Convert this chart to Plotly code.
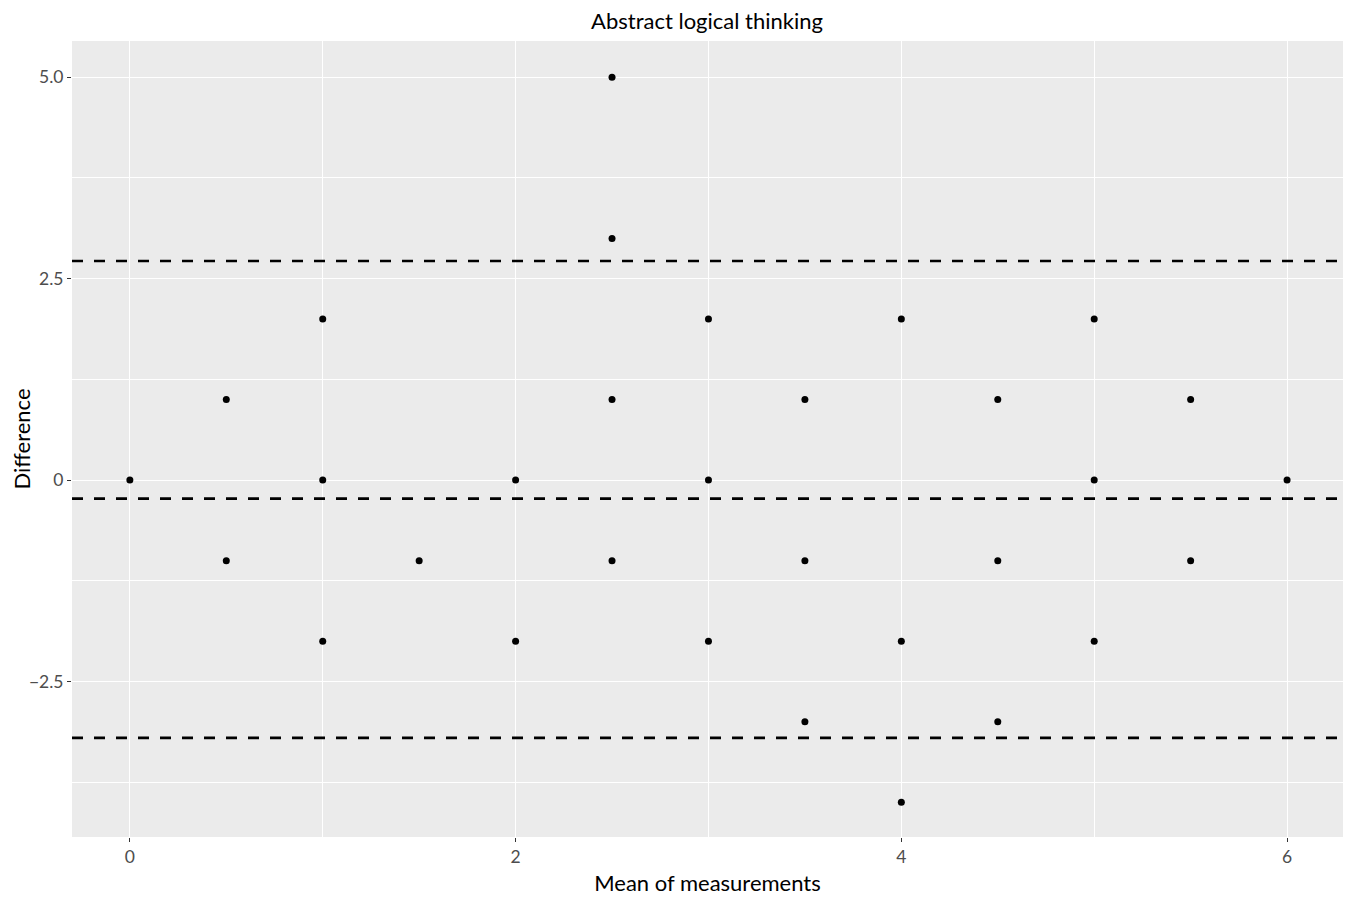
import plotly.graph_objects as go

# Data
mean_vals = [0, 0.5, 0.5, 1, 1, 1, 1.5, 2, 2, 2.5, 2.5, 2.5, 2.5, 3, 3, 3,
             3.5, 3.5, 3.5, 4, 4, 4, 4.5, 4.5, 4.5, 5, 5, 5, 5.5, 5.5, 6]
diff_vals = [0, 1, -1, 2, 0, -2, -1, 0, -2, 5, 3, 1, -1, 2, 0, -2,
             1, -1, -3, 2, -2, -4, 1, -1, -3, 2, 0, -2, 1, -1, 0]
limit_lines = [2.72, -0.23, -3.2]  # upper LoA, mean bias, lower LoA
x_ticks = [0, 2, 4, 6]
x_ticklabels = ["0", "2", "4", "6"]
y_ticks = [-2.5, 0, 2.5, 5.0]
y_ticklabels = ["\u22122.5", "0", "2.5", "5.0"]
x_range = [-0.3, 6.29]
y_range = [-4.43, 5.45]

FONT = "Lato, 'Noto Sans', sans-serif"
W, H = 1335, 888  # page body has an 8px margin

fig = go.Figure()
fig.add_trace(go.Scatter(
    x=mean_vals, y=diff_vals, mode="markers",
    marker=dict(color="black", size=7),
    showlegend=False, hoverinfo="x+y",
))
for v in limit_lines:
    fig.add_shape(type="line", xref="paper", x0=0, x1=1, yref="y", y0=v, y1=v,
                  line=dict(color="black", width=2.6, dash="11px,11px"))

fig.update_layout(
    width=W, height=H,
    margin=dict(l=64, r=0, t=33, b=59, autoexpand=False),
    paper_bgcolor="white", plot_bgcolor="#EBEBEB",
    font=dict(family=FONT, color="#4D4D4D", size=17),
    title=dict(text="Abstract logical thinking", x=699 / W,
               xanchor="center", y=1 - 13 / H, yanchor="middle",
               font=dict(family=FONT, size=22, color="black")),
)
fig.update_xaxes(
    range=x_range, tickvals=x_ticks, ticktext=x_ticklabels, automargin=True,
    showgrid=True, gridcolor="white", gridwidth=1.2, zeroline=False,
    ticks="outside", ticklen=4, tickcolor="#333333", tickwidth=1,
    tickfont=dict(size=17.5, color="#4D4D4D"),
    minor=dict(dtick=1, tick0=0, showgrid=True, gridcolor="white", gridwidth=0.6, ticks=""),
    title=dict(text="Mean of measurements", font=dict(size=22, color="black"), standoff=14),
    showline=False,
)
fig.update_yaxes(
    range=y_range, tickvals=y_ticks, ticktext=y_ticklabels, automargin=True,
    showgrid=True, gridcolor="white", gridwidth=1.2, zeroline=False,
    ticks="outside", ticklen=4, tickcolor="#333333", tickwidth=1,
    tickfont=dict(size=17.5, color="#4D4D4D"),
    minor=dict(dtick=1.25, tick0=0, showgrid=True, gridcolor="white", gridwidth=0.6, ticks=""),
    title=dict(text="Difference", font=dict(size=22, color="black"), standoff=4),
    showline=False,
)

fig.write_html("out.html")
